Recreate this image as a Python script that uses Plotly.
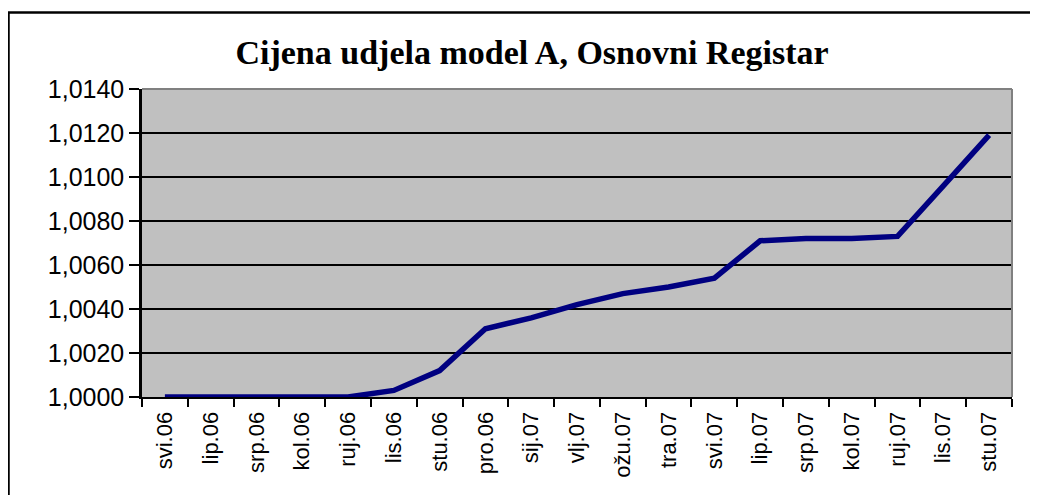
import plotly.graph_objects as go

categories = ["svi.06", "lip.06", "srp.06", "kol.06", "ruj.06", "lis.06", "stu.06", "pro.06",
              "sij.07", "vlj.07", "ožu.07", "tra.07", "svi.07", "lip.07", "srp.07", "kol.07",
              "ruj.07", "lis.07", "stu.07"]
prices = [1.0000, 1.0000, 1.0000, 1.0000, 1.0000, 1.0003, 1.0012, 1.0031,
          1.0036, 1.0042, 1.0047, 1.0050, 1.0054, 1.0071, 1.0072, 1.0072,
          1.0073, 1.0096, 1.0119]
y_ticks = [1.0000, 1.0020, 1.0040, 1.0060, 1.0080, 1.0100, 1.0120, 1.0140]
title_text = "Cijena udjela model A, Osnovni Registar"

OFF = 8  # page body margin offset
W, H = 1038, 495
L, R, T, B = 142 - OFF, 1012 - OFF, 89 - OFF, 397 - OFF

fig = go.Figure()
fig.add_trace(go.Scatter(
    x=categories, y=prices, mode="lines",
    line=dict(color="#000080", width=5.5), hoverinfo="skip", showlegend=False,
))

def px_to_paper_x(px):
    return (px - OFF - L) / (R - L)

def px_to_paper_y(py):
    return (B - (py - OFF)) / (B - T)

fig.update_layout(
    width=W, height=H,
    margin=dict(l=L, r=W - R, t=T, b=H - B, pad=0),
    paper_bgcolor="white",
    plot_bgcolor="#C0C0C0",
    separators=",.",
    title=dict(text="<b>" + title_text + "</b>",
               font=dict(family="Liberation Serif", size=34, color="black"),
               x=(532 - OFF) / W, xanchor="center", xref="container",
               y=1 - (52 - OFF) / H, yanchor="middle", yref="container"),
    xaxis=dict(
        type="category", range=[-0.5, len(categories) - 0.5],
        tickson="boundaries", ticks="outside", ticklen=8, tickwidth=2, tickcolor="black",
        showline=True, linecolor="black", linewidth=2,
        showgrid=False, tickangle=-90, ticklabelstandoff=4,
        tickfont=dict(family="Arial, Liberation Sans", size=22, color="black"),
        zeroline=False, fixedrange=True,
    ),
    yaxis=dict(
        range=[1.0, 1.014], tickvals=y_ticks, tickformat=".4f",
        ticks="outside", ticklen=10, tickwidth=2, tickcolor="black",
        showline=True, linecolor="black", linewidth=2.5,
        showgrid=True, gridcolor="black", gridwidth=1.5,
        tickfont=dict(family="Arial, Liberation Sans", size=25, color="black"),
        zeroline=False, fixedrange=True,
    ),
    shapes=[
        # gray plot-area border on top and right
        dict(type="line", xref="paper", yref="paper", x0=0, x1=1, y0=1, y1=1,
             line=dict(color="#808080", width=2), layer="above"),
        dict(type="line", xref="paper", yref="paper", x0=1, x1=1, y0=0, y1=1,
             line=dict(color="#808080", width=2), layer="above"),
        # chart outer frame (top and left)
        dict(type="line", xref="paper", yref="paper",
             x0=px_to_paper_x(8), x1=px_to_paper_x(W + 20), y0=px_to_paper_y(12.5), y1=px_to_paper_y(12.5),
             line=dict(color="black", width=2.5)),
        dict(type="line", xref="paper", yref="paper",
             x0=px_to_paper_x(8.5), x1=px_to_paper_x(8.5), y0=px_to_paper_y(12), y1=px_to_paper_y(H + 20),
             line=dict(color="black", width=2.5)),
    ],
)

fig.write_html("out.html")
